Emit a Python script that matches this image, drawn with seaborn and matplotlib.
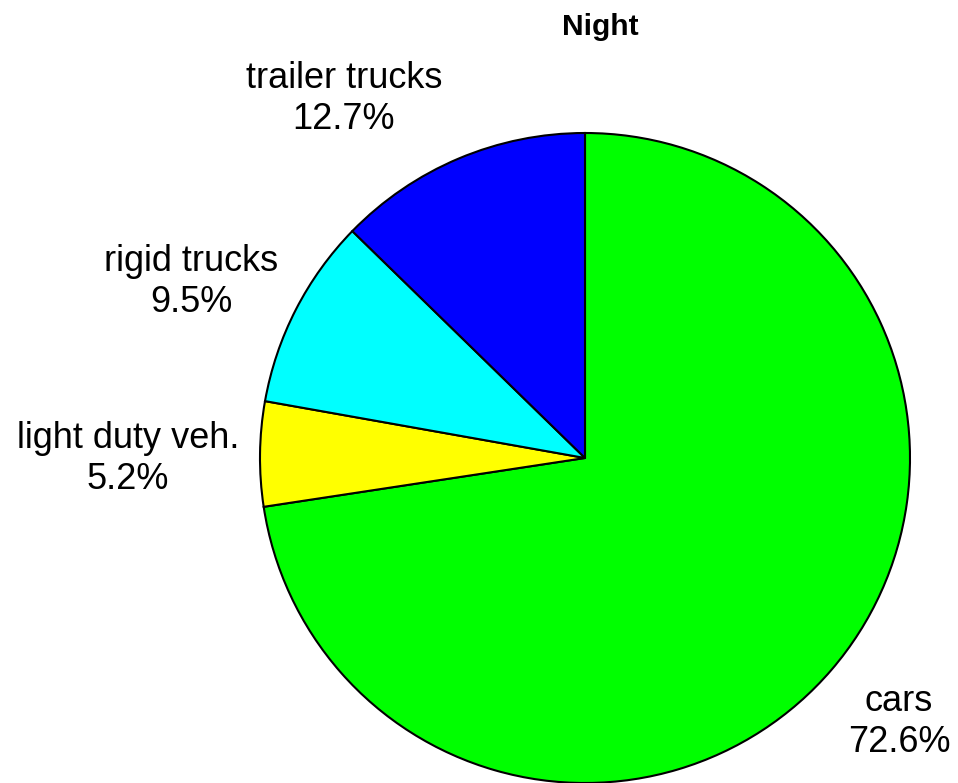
import numpy as np
import pandas as pd
import seaborn as sns
import matplotlib
matplotlib.use("Agg")
import matplotlib.pyplot as plt

# data
categories = ["cars", "light duty veh.", "rigid trucks", "trailer trucks"]
shares = [72.6, 5.2, 9.5, 12.7]
slice_colors = ["#00ff00", "#ffff00", "#00ffff", "#0000ff"]
title = "Night"

df = pd.DataFrame({"cat": categories, "share": shares})

sns.set_theme(style="white")
plt.rcParams["font.family"] = ["Liberation Sans", "DejaVu Sans"]

W, H, dpi = 958, 783, 100
cx, cy, R = 585, 458, 325   # pie centre and radius in pixels

fig = plt.figure(figsize=(W / dpi, H / dpi), dpi=dpi)
ax = fig.add_axes([0, 0, 1, 1])

ax.pie(df["share"], colors=slice_colors, startangle=90, counterclock=False,
       radius=1, wedgeprops=dict(edgecolor="black", linewidth=1.5))

ax.set_aspect("auto")
ax.set_xlim(-cx / R, (W - cx) / R)
ax.set_ylim(-(H - cy) / R, cy / R)
ax.axis("off")

# label centres (pixels), same order as categories
lab_px = [(899, 722), (128, 459), (191, 282), (344, 99)]
for (name, val), (px, py) in zip(zip(df["cat"], df["share"]), lab_px):
    ax.text((px - cx) / R, (cy - py) / R, f"{name}\n{val:.1f}%",
            ha="center", va="center", multialignment="center",
            fontsize=26, color="black")

fig.text(600 / W, 1 - 27 / H, title, ha="center", va="center",
         fontsize=21.5, fontweight="bold", color="black")

fig.savefig("out.png", dpi=dpi, facecolor="white")
